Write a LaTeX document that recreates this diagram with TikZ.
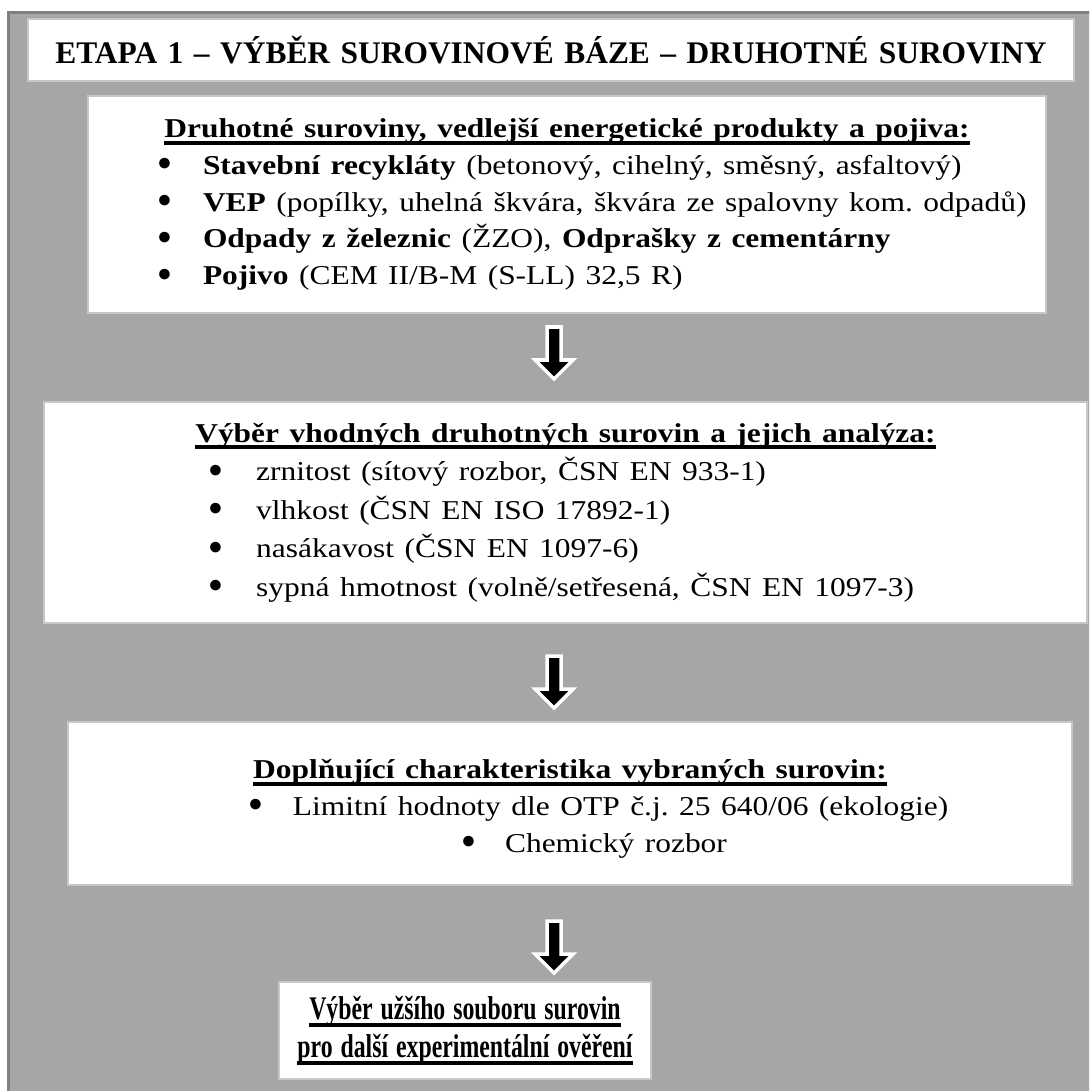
\documentclass[tikz,border=0pt]{standalone}
\usepackage{fontspec}
\setmainfont{Liberation Serif}
\usetikzlibrary{positioning}
% thick underline
\newsavebox{\ulbox}
\newcommand{\thickul}[1]{\sbox{\ulbox}{#1}\rlap{\rule[-4pt]{\wd\ulbox}{2.2pt}}\usebox{\ulbox}}
% body text is set a little wider than the font
\newcommand{\wider}[1]{\scalebox{1.155}[1]{#1}}
\newcommand{\blt}{\raisebox{2pt}{\fontsize{14}{14}\selectfont ●}}
% bullet line: indent, gap to text, text
\newcommand{\itm}[3]{\makebox[\linewidth][l]{\hspace*{#1}\makebox[#2][l]{\blt}\wider{#3}}}
\tikzset{
  outerframe/.style={draw=black!50, line width=1.7pt, fill=black!35},
  stagebox/.style={draw=black!22, line width=0.7pt, fill=white, inner sep=0pt, align=center},
  blockarrow/.style={fill=black, draw=white, line width=2pt, line join=miter}
}

\begin{document}
\frenchspacing
\begin{tikzpicture}[x=0.02cm, y=-0.02cm]
  \clip (0,0) rectangle (1089,1091);
  \draw[outerframe] (8.5,12.5) rectangle (1110,1110);

  \node[stagebox, text width=20.92cm, minimum height=1.24cm, font=\fontsize{17.9}{22}\selectfont\bfseries] (title) at (551,50)
    {ETAPA 1 – VÝBĚR SUROVINOVÉ BÁZE – DRUHOTNÉ SUROVINY};

  \node[stagebox, text width=19.16cm, minimum height=4.34cm, font=\fontsize{15.5}{20.9}\selectfont] (sources) at (567,204.5) {
    \wider{\textbf{\thickul{Druhotné suroviny, vedlejší energetické produkty a pojiva:}}}\\
    \itm{39.3pt}{26.1pt}{\textbf{Stavební recykláty} (betonový, cihelný, směsný, asfaltový)}\\
    \itm{39.3pt}{26.1pt}{\textbf{VEP} (popílky, uhelná škvára, škvára ze spalovny kom. odpadů)}\\
    \itm{39.3pt}{26.1pt}{\textbf{Odpady z železnic} (ŽZO), \textbf{Odprašky z cementárny}}\\
    \itm{39.3pt}{26.1pt}{\textbf{Pojivo} (CEM II/B-M (S-LL) 32,5 R)}};

  \node[stagebox, text width=20.86cm, minimum height=4.42cm, font=\fontsize{15.5}{21.9}\selectfont] (selection) at (565.5,512.5) {
    \wider{\textbf{\thickul{Výběr vhodných druhotných surovin a jejich analýza:}}}\\
    \itm{93.3pt}{27.4pt}{zrnitost (sítový rozbor, ČSN EN 933-1)}\\
    \itm{93.3pt}{27.4pt}{vlhkost (ČSN EN ISO 17892-1)}\\
    \itm{93.3pt}{27.4pt}{nasákavost (ČSN EN 1097-6)}\\
    \itm{93.3pt}{27.4pt}{sypná hmotnost (volně/setřesená, ČSN EN 1097-3)}};

  \node[stagebox, text width=20.08cm, minimum height=3.26cm, font=\fontsize{15.5}{21}\selectfont] (extra) at (570,803.5) {
    \rule{0pt}{17pt}\wider{\textbf{\thickul{Doplňující charakteristika vybraných surovin:}}}\\
    \itm{102.4pt}{25.6pt}{Limitní hodnoty dle OTP č.j. 25 640/06 (ekologie)}\\
    \itm{223.7pt}{25pt}{Chemický rozbor}};

  \node[stagebox, text width=7.44cm, minimum height=1.94cm, font=\fontsize{18.8}{21.6}\selectfont\bfseries] (shortlist) at (465,1030.5) {
    \scalebox{0.72}[1]{\thickul{Výběr užšího souboru surovin}}\\
    \scalebox{0.72}[1]{\thickul{pro další experimentální ověření}}};

  % block arrows between the stages
  \coordinate (arr1) at (554,325);
  \coordinate (arr2) at (554,654);
  \coordinate (arr3) at (554,919);
  \draw[blockarrow] (arr1) ++(-7,2) -- ++(14,0) -- ++(0,33) -- ++(12,0) -- ++(-19,19) -- ++(-19,-19) -- ++(12,0) -- cycle;
  \draw[blockarrow] (arr2) ++(-7,2) -- ++(14,0) -- ++(0,33) -- ++(12,0) -- ++(-19,19) -- ++(-19,-19) -- ++(12,0) -- cycle;
  \draw[blockarrow] (arr3) ++(-7,2) -- ++(14,0) -- ++(0,33) -- ++(12,0) -- ++(-19,19) -- ++(-19,-19) -- ++(12,0) -- cycle;
\end{tikzpicture}
\end{document}
